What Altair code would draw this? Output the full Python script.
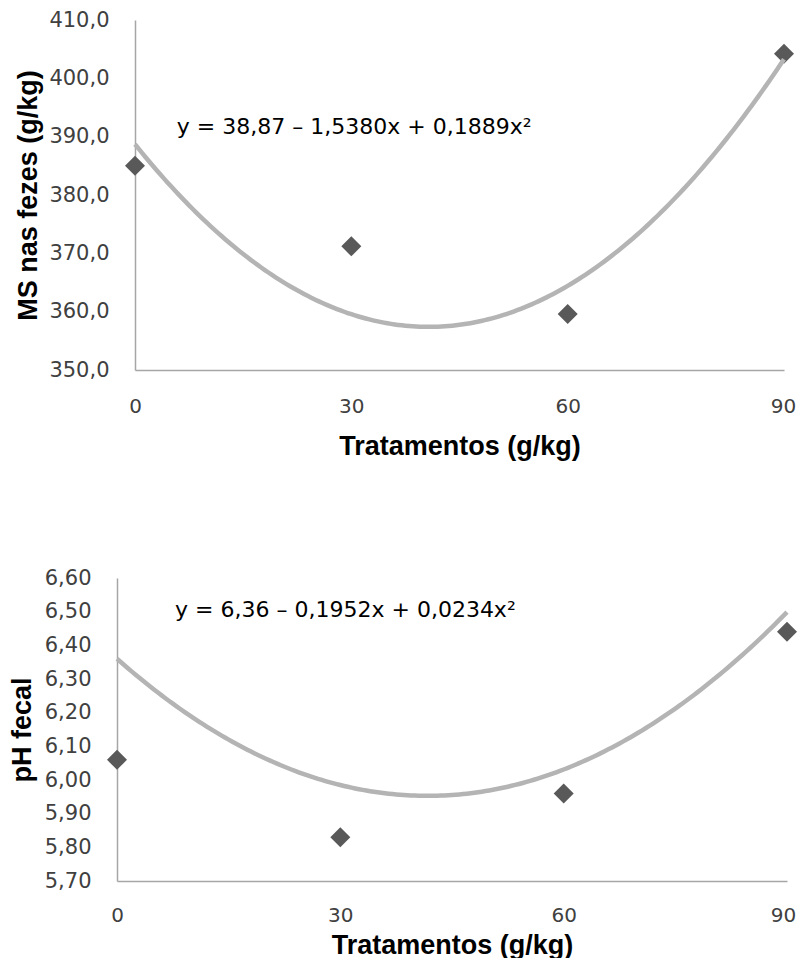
import altair as alt
import pandas as pd

# ---- data ----
tratamentos = [0, 30, 60, 90]                 # g/kg
ms_fezes = [385.0, 371.2, 359.6, 404.2]       # MS nas fezes (g/kg)
ph_fecal = [6.06, 5.83, 5.96, 6.44]           # pH fecal

# trendline coefficients as printed in the chart (x expressed in %, i.e. g/kg / 10)
ms_coef = [38.87, -1.5380, 0.1889]            # y in % -> x10 for g/kg
ph_coef = [6.36, -0.1952, 0.0234]
ms_eq = "y = 38,87 – 1,5380x + 0,1889x²"
ph_eq = "y = 6,36 – 0,1952x + 0,0234x²"
ms_eq_pos = [5.8, 391.6]
ph_eq_pos = [7.8, 6.505]

x_ticks = [0, 30, 60, 90]
ms_ticks = [350, 360, 370, 380, 390, 400, 410]
ph_ticks = [5.70, 5.80, 5.90, 6.00, 6.10, 6.20, 6.30, 6.40, 6.50, 6.60]

GRAY_AX = "#a6a6a6"
LBL = "#404040"


def panel(yvals, coef, yfactor, eq, eq_pos, ticks, decimals, ytitle,
          width, height, inset, title_x, label_pad, title_y, last_shift):
    df = pd.DataFrame({"x": tratamentos, "y": yvals})
    xs = alt.Scale(domain=[0, 90], range=[inset, width], nice=False, zero=False)
    ys = alt.Scale(domain=[ticks[0], ticks[-1]], nice=False, zero=False)
    xaxis = alt.Axis(values=x_ticks, title="Tratamentos (g/kg)", labelFlush=False,
                     ticks=False, grid=False, domainColor=GRAY_AX, domainWidth=1.5,
                     labelFont="DejaVu Sans", labelFontSize=20, labelColor=LBL,
                     labelPadding=label_pad, labelOverlap=False,
                     labelOffset=alt.condition("datum.value == 90",
                                               alt.value(last_shift), alt.value(0)),
                     titleFont="Liberation Sans",
                     titleFontSize=27, titleFontWeight="bold", titleColor="#000000",
                     titleX=inset + (width - inset) / 2,
                     titleY=title_y, titleBaseline="middle")
    yaxis = alt.Axis(values=ticks, title=ytitle, ticks=False, grid=False,
                     offset=-inset, tickCount=len(ticks),
                     domainColor=GRAY_AX, domainWidth=1.5, labelOverlap=False,
                     labelExpr=f"replace(format(datum.value, '.{decimals}f'), '.', ',')",
                     labelFont="DejaVu Sans", labelFontSize=21, labelColor=LBL,
                     labelPadding=26, titleFont="Liberation Sans", titleFontSize=27,
                     titleFontWeight="bold", titleColor="#000000", titleAngle=270,
                     titleX=title_x, titleY=height / 2, titleBaseline="middle")

    pts = alt.Chart(df).mark_point(shape="diamond", filled=True, size=400,
                                   strokeWidth=0, color="#595959", opacity=1).encode(
        x=alt.X("x:Q", scale=xs, axis=xaxis),
        y=alt.Y("y:Q", scale=ys, axis=yaxis),
    )
    expr = (f"{yfactor}*({coef[0]} + ({coef[1]})*(datum.x/10) + "
            f"({coef[2]})*pow(datum.x/10, 2))")
    curve = alt.Chart(alt.sequence(0, 90.25, 0.5, as_="x")).transform_calculate(
        y=expr
    ).mark_line(color="#b4b4b4", strokeWidth=4.5).encode(
        x=alt.X("x:Q", scale=xs, axis=xaxis),
        y=alt.Y("y:Q", scale=ys, axis=yaxis),
    )
    txt = alt.Chart(pd.DataFrame({"x": [eq_pos[0]], "y": [eq_pos[1]], "t": [eq]})).mark_text(
        align="left", baseline="middle", font="DejaVu Sans", fontSize=22, color="#000000"
    ).encode(x=alt.X("x:Q", scale=xs, axis=xaxis),
             y=alt.Y("y:Q", scale=ys, axis=yaxis), text="t:N")
    return alt.layer(pts, curve, txt).properties(width=width, height=height)


# top plot spans ~134..783, bottom ~116..786; both panels share the left origin
top = panel(ms_fezes, ms_coef, 10, ms_eq, ms_eq_pos, ms_ticks, 1,
            "MS nas fezes (g/kg)", 667, 350, 18, -106.5, 26, 76, -1)
bottom = panel(ph_fecal, ph_coef, 1, ph_eq, ph_eq_pos, ph_ticks, 2,
               "pH fecal", 670, 303, 0, -95, 24, 64, -4)

chart = alt.vconcat(top, bottom, spacing=108).properties(
    padding={"left": 0, "top": 1, "right": 0, "bottom": 0}
).configure_view(stroke=None).configure_axis(labelOverlap=False).resolve_scale(
    x="independent", y="independent")

chart.save("out.html", embed_options={"renderer": "svg", "actions": False})
